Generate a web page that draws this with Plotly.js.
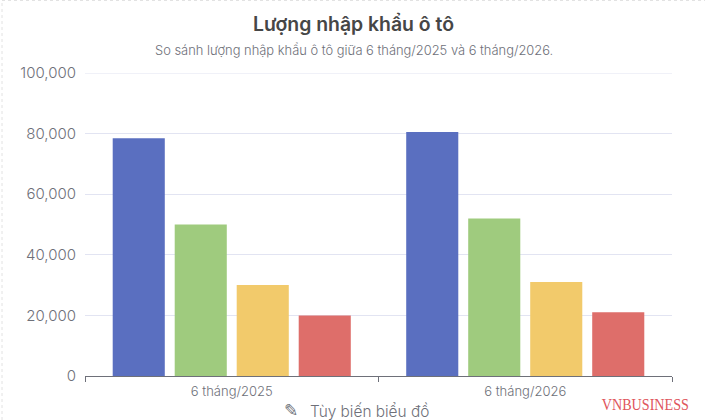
<!DOCTYPE html>
<html><head><meta charset="utf-8">
<script src="https://cdn.plot.ly/plotly-3.0.1.min.js"></script>
<style>html,body{margin:0;padding:0;background:#fff;overflow:hidden}#c{width:705px;height:420px}</style>
</head><body><div id="c"></div>
<script>
const categories = ["6 tháng/2025", "6 tháng/2026"];
const seriesA = [78500, 80500];
const seriesB = [50000, 52000];
const seriesC = [30000, 31000];
const seriesD = [20000, 21000];
const colors = ["#5a6fc0", "#9fcb7e", "#f2ca6b", "#de6e6a"];
const yTicks = [0, 20000, 40000, 60000, 80000, 100000];
const titleText = "Lượng nhập khẩu ô tô";
const subtitleText = "So sánh lượng nhập khẩu ô tô giữa 6 tháng/2025 và 6 tháng/2026.";
const customizeIcon = "✎";
const customizeText = "Tùy biến biểu đồ";
const brandText = "VNBUSINESS";
const font = "Inter, 'Noto Sans', sans-serif";
const gridColor = "#e2e4f2";

const traces = [seriesA, seriesB, seriesC, seriesD].map((v, i) => ({
  type: "bar", x: categories, y: v, marker: {color: colors[i], line: {width: 0}}, hoverinfo: "y"
}));
const labels = [
  {text: titleText, x: 353.5, y: 24, size: 19.4, color: "#464646", f: font, w: 600},
  {text: subtitleText, x: 354, y: 50, size: 12.9, color: "#6e7079", f: font, w: 300},
  {text: customizeIcon, x: 291, y: 410, size: 17, color: "#6e7079", f: "'DejaVu Sans', sans-serif", w: 400},
  {text: customizeText, x: 369, y: 411, size: 15.4, color: "#6e7079", f: font, w: 300},
  {text: brandText, x: 645.5, y: 404, size: 16, color: "#e0555c", f: "'Liberation Serif', serif", w: 400}
];
const layout = {
  width: 705, height: 420, autosize: false, showlegend: false,
  paper_bgcolor: "#fff", plot_bgcolor: "#fff",
  margin: {l: 85, r: 33, t: 73, b: 44},
  barmode: "group", bargap: 0.155, bargroupgap: 0.16,
  font: {family: font, color: "#6e7079"},
  xaxis: {type: "category", tickson: "boundaries", ticks: "outside", ticklen: 5, tickwidth: 1, tickcolor: "#6e7079",
    showline: true, linecolor: "#6e7079", linewidth: 1, showgrid: false, zeroline: false, ticklabelstandoff: 3,
    tickfont: {size: 13, color: "#6e7079", family: font, weight: 300}, automargin: false},
  yaxis: {range: [0, 100000], tickvals: yTicks, tickformat: ",d", ticks: "", showline: false, ticklabelstandoff: 8,
    gridcolor: gridColor, gridwidth: 1, zeroline: false,
    tickfont: {size: 15, color: "#6e7079", family: font, weight: 300}, automargin: false},
  annotations: labels.map(a => ({
    xref: "paper", yref: "paper", xanchor: "center", yanchor: "middle", showarrow: false,
    x: (a.x - 85) / 587, y: (376 - a.y) / 303, text: a.text,
    font: {size: a.size, color: a.color, family: a.f, weight: a.w}
  })),
  shapes: [
    {type: "line", xref: "paper", yref: "y", x0: 0, x1: 1, y0: yTicks[5], y1: yTicks[5],
      line: {color: gridColor, width: 1}},
    {type: "line", xref: "paper", yref: "paper", x0: -83/587, x1: -83/587, y0: -44/303, y1: 376/303,
      line: {color: "#e2e2e2", width: 1, dash: "3px,3px"}},
    {type: "line", xref: "paper", yref: "paper", x0: -83/587, x1: 620/587, y0: 375.5/303, y1: 375.5/303,
      line: {color: "#e2e2e2", width: 1, dash: "3px,3px"}}
  ]
};
Plotly.newPlot("c", traces, layout, {displayModeBar: false, staticPlot: true}).then(() => {
  document.querySelectorAll(".annotation-text").forEach(t => {
    if (t.textContent === brandText) {
      t.setAttribute("textLength", "87");
      t.setAttribute("lengthAdjust", "spacingAndGlyphs");
    }
  });
});
</script></body></html>
